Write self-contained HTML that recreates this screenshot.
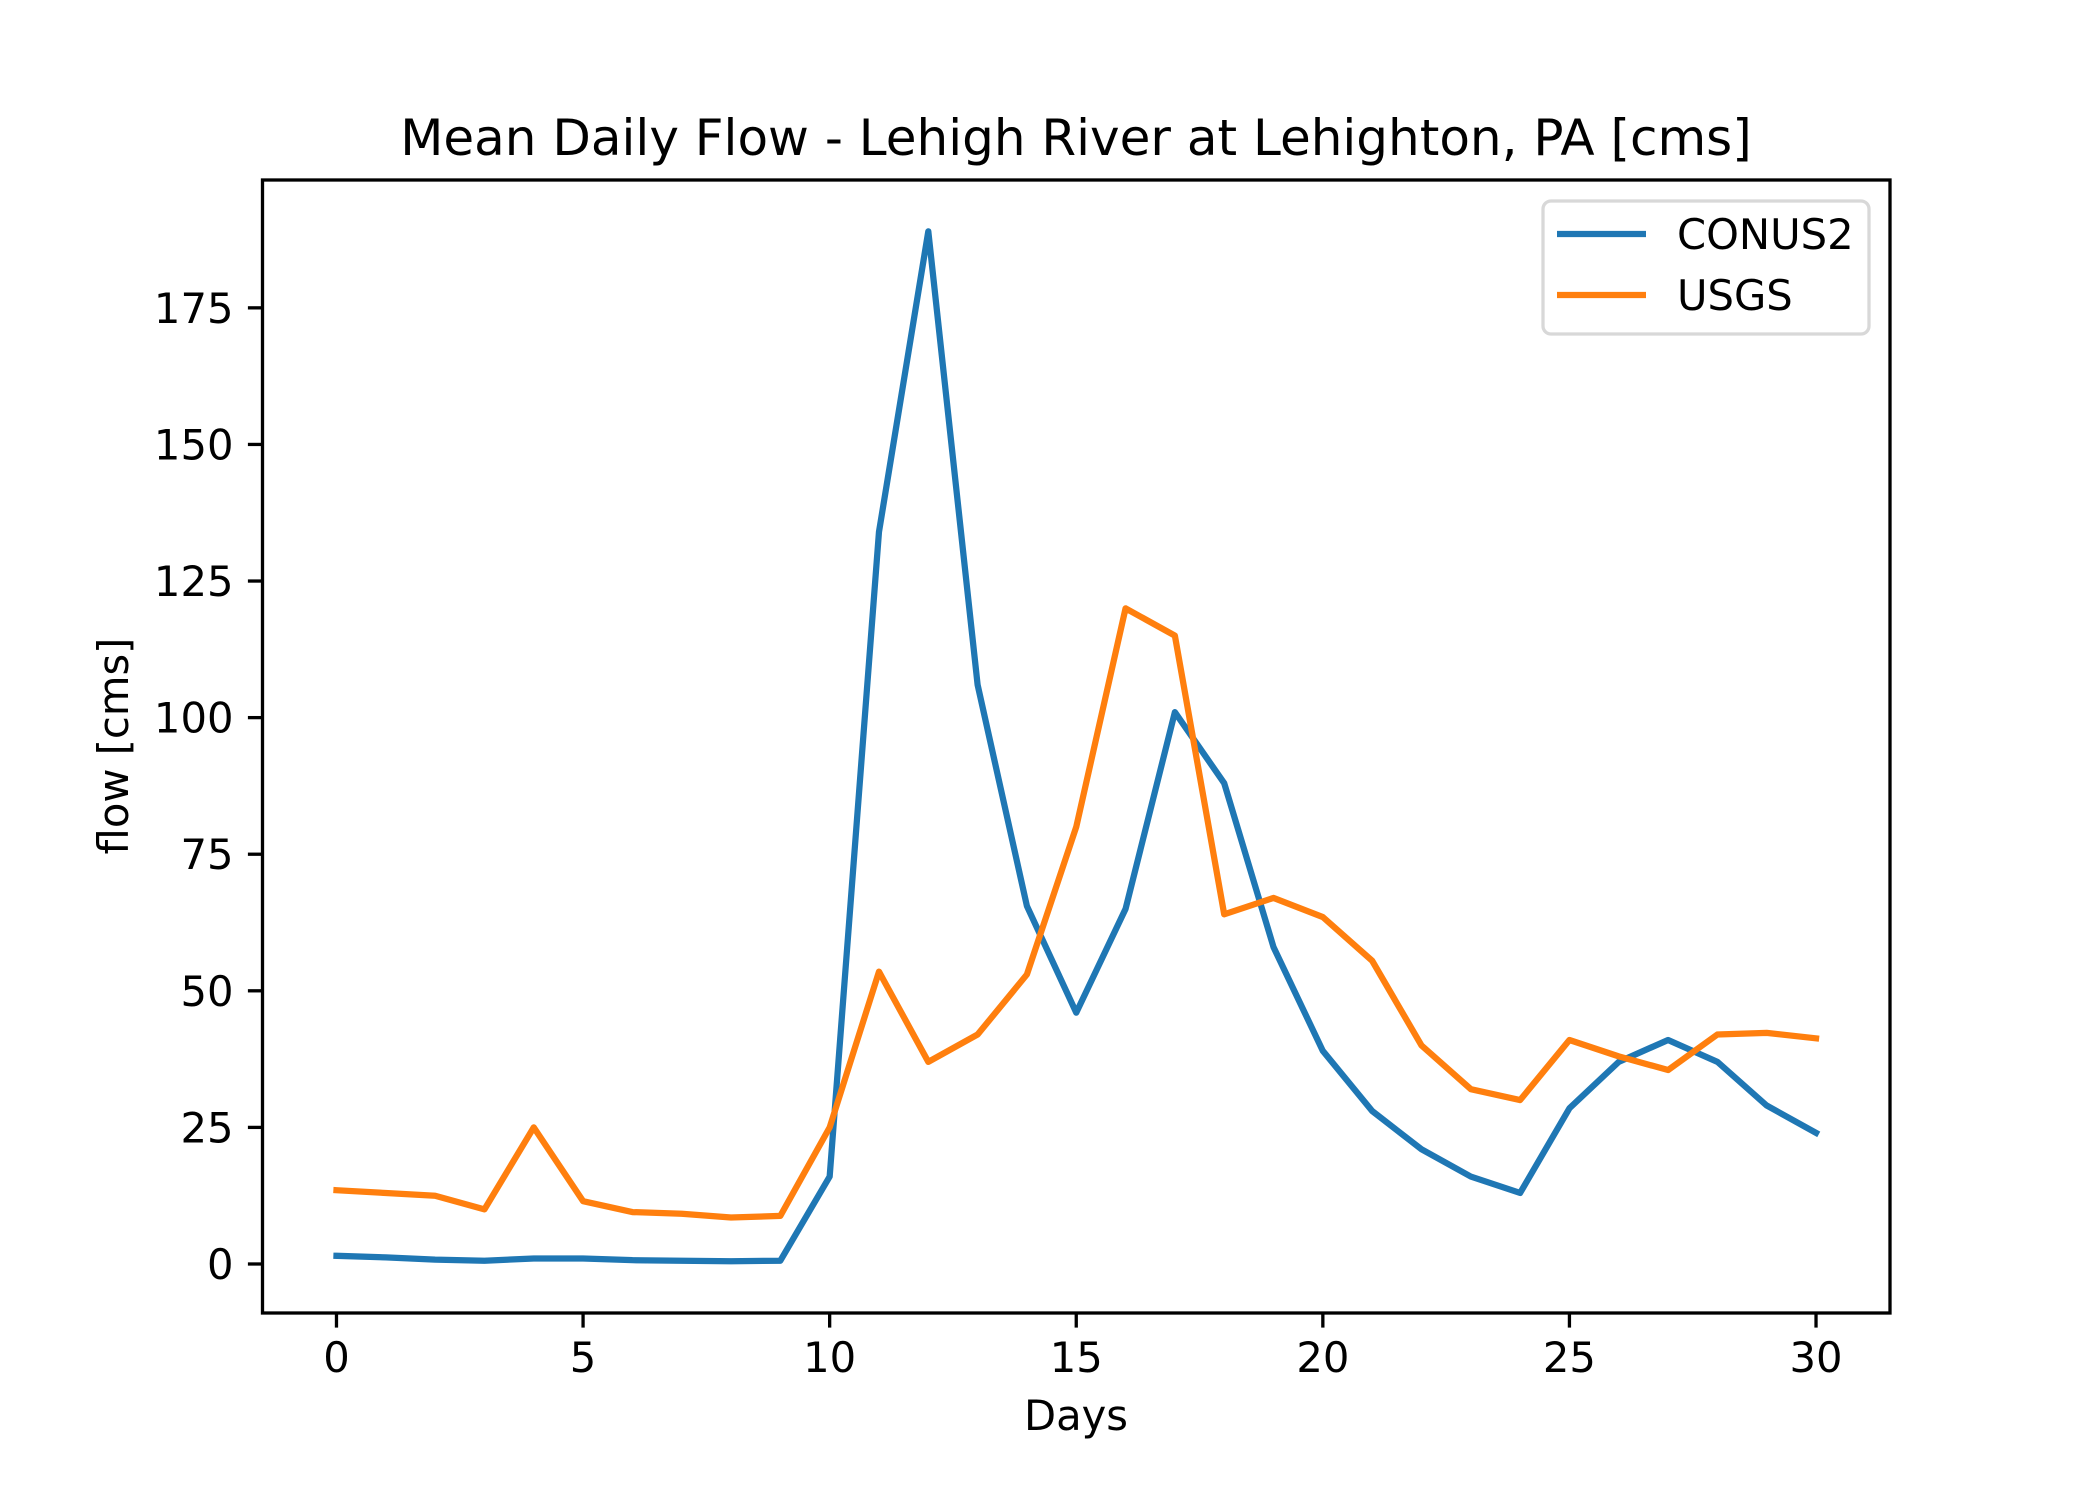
<!DOCTYPE html>
<html><head><meta charset="utf-8"><style>html,body{margin:0;padding:0;background:#fff}svg{display:block}text{font-family:"DejaVu Sans","Liberation Sans",sans-serif;fill:#000}</style></head>
<body>
<svg id="chart" width="2100" height="1500" xmlns="http://www.w3.org/2000/svg">
<rect width="2100" height="1500" fill="#fff"/>
<text x="1076" y="155" font-size="50" text-anchor="middle">Mean Daily Flow - Lehigh River at Lehighton, PA [cms]</text>
<g id="plot"></g>
<text x="1076" y="1430" font-size="41.7" text-anchor="middle">Days</text>
<text transform="translate(128,746) rotate(-90)" font-size="41.7" text-anchor="middle">flow [cms]</text>
<g>
<rect x="1543" y="201" width="326" height="133" rx="8" fill="#fff" fill-opacity="0.8" stroke="#d8d8d8" stroke-width="3.3"/>
<line x1="1557" y1="234" x2="1646" y2="234" stroke="#1f77b4" stroke-width="6.25"/>
<text x="1677" y="249" font-size="41.7">CONUS2</text>
<line x1="1557" y1="295" x2="1646" y2="295" stroke="#ff7f0e" stroke-width="6.25"/>
<text x="1677" y="310" font-size="41.7">USGS</text>
</g>
</svg>
<script>
const days = [0,1,2,3,4,5,6,7,8,9,10,11,12,13,14,15,16,17,18,19,20,21,22,23,24,25,26,27,28,29,30];
const conus2 = [1.5,1.2,0.8,0.6,1,1,0.7,0.6,0.5,0.6,16,134,189,106,65.5,46,65,101,88,58,39,28,21,16,13,28.5,37,41,37,29,24];
const usgs = [13.5,13,12.5,10,25,11.5,9.5,9.2,8.5,8.8,25,53.5,37,42,53,80,120,115,64,67,63.5,55.5,40,32,30,41,38,35.5,42,42.3,41.3];
const xTicks = [0,5,10,15,20,25,30];
const yTicks = [0,25,50,75,100,125,150,175];

const L=262.5,R=1890,T=180,B=1313;
const xmin=-1.5,xmax=31.5,ymin=-8.97,ymax=198.4;
const sx=v=>L+(v-xmin)/(xmax-xmin)*(R-L);
const sy=v=>B-(v-ymin)/(ymax-ymin)*(B-T);
const NS='http://www.w3.org/2000/svg';
const g=document.getElementById('plot');
function mk(tag,attrs){const e=document.createElementNS(NS,tag);for(const k in attrs)e.setAttribute(k,attrs[k]);g.appendChild(e);return e;}
function line(vals,color,name){
  const pts=days.map((d,i)=>sx(d).toFixed(2)+','+sy(vals[i]).toFixed(2)).join(' ');
  const p=mk('polyline',{points:pts,fill:'none',stroke:color,'stroke-width':6.25,'stroke-linejoin':'round','stroke-linecap':'square'});
  
  
}
line(conus2,'#1f77b4','conus2-line');
line(usgs,'#ff7f0e','usgs-line');
const frame=mk('rect',{x:L,y:T,width:R-L,height:B-T,fill:'none',stroke:'#000','stroke-width':3.3});


xTicks.forEach(v=>{
  const t=mk('line',{x1:sx(v),x2:sx(v),y1:B,y2:B+14.6,stroke:'#000','stroke-width':3.3});
  
  
  const l=mk('text',{x:sx(v),y:B+59,'font-size':41.7,'text-anchor':'middle'});
  l.textContent=v;
  
  
});
yTicks.forEach(v=>{
  const t=mk('line',{x1:L-14.6,x2:L,y1:sy(v),y2:sy(v),stroke:'#000','stroke-width':3.3});
  
  
  const l=mk('text',{x:L-29,y:sy(v)+15,'font-size':41.7,'text-anchor':'end'});
  l.textContent=v;
  
  
});
</script>
</body></html>
